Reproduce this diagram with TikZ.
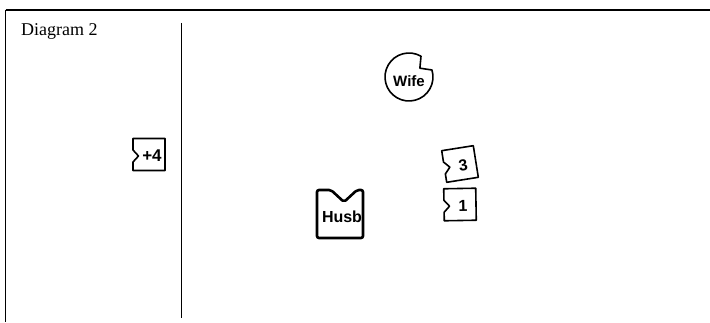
\documentclass[tikz,border=0pt]{standalone}
\usepackage{fontspec}
\setmainfont{Liberation Serif}
\newfontfamily\labelfont{Liberation Sans}

\begin{document}
\begin{tikzpicture}[x=1pt, y=1pt,
    tag/.style={font=\labelfont\bfseries\fontsize{15}{15}\selectfont, inner sep=0pt},
    card/.pic={
        \draw[line width=1.6pt, line join=round] (-16,16) -- (16,16) -- (16,-16) -- (-16,-16)
            -- (-16,-7.5) -- (-10.5,-1.5) -- (-16,4.5) -- cycle;
        \node[tag] (-txt) at (3,-1.5) {#1};
    }]
    \useasboundingbox (0,0) rectangle (710,322);

    % Frame: top rule, left rule and the column divider
    \draw[line width=1.6pt] (5.5,312) -- (710,312);
    \draw[line width=0.9pt] (5.5,312) -- (5.5,0);
    \draw[line width=0.9pt] (181,299) -- (181,4);
    \node[anchor=base west, inner sep=0pt, font=\fontsize{18}{20}\selectfont] (title) at (21,286) {Diagram 2};

    % Wife (round token with a bite out of it)
    \begin{scope}[shift={(409,245)}]
        \draw[line width=1.6pt, line join=round] (60:24) arc[start angle=60, end angle=377, radius=24] -- (39:14) -- cycle;
    \end{scope}
    \node[tag] (wife) at (409,241) {Wife};

    % Husb (square token with a notch on top)
    \draw[line width=2.6pt, rounded corners=2pt] (317,132) -- (331,132) -- (344,120) -- (357,132)
        -- (363,132) -- (363,84) -- (317,84) -- cycle;
    \node[tag, font=\labelfont\bfseries\fontsize{16}{16}\selectfont] (husb) at (342,105.5) {Husb};

    % Cards
    \pic[tag/.append style={font=\labelfont\bfseries\fontsize{17}{17}\selectfont}] (plusfour) at (149,167.5) {card=+4};
    \pic[rotate=9, transform shape, tag/.append style={font=\labelfont\bfseries\fontsize{16}{16}\selectfont}] (three) at (460,158) {card=3};
    \pic[rotate=1, transform shape, tag/.append style={font=\labelfont\bfseries\fontsize{16}{16}\selectfont}] (one) at (460,117.5) {card=1};
\end{tikzpicture}
\end{document}
